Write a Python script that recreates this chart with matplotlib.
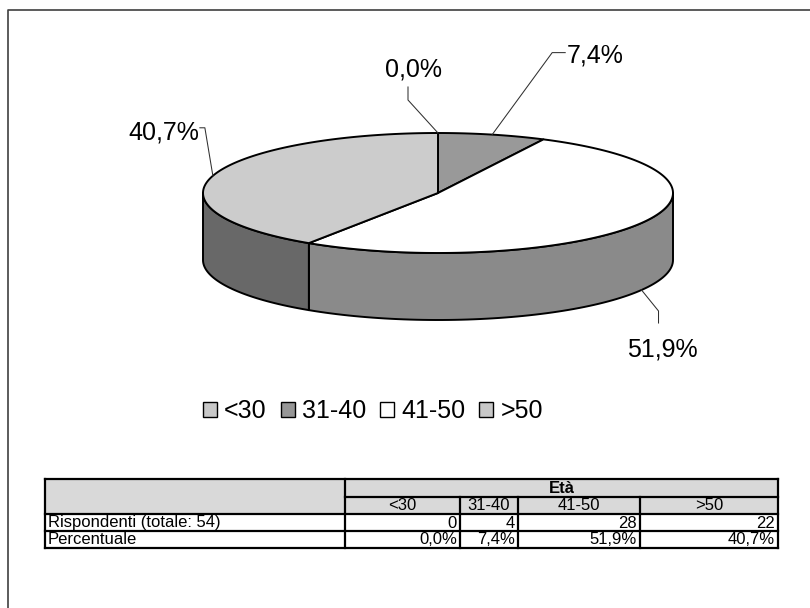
import numpy as np
import matplotlib
matplotlib.use('Agg')
import matplotlib.pyplot as plt
from matplotlib.patches import Polygon, Rectangle, Patch

plt.rcParams['font.family'] = ['Liberation Sans', 'DejaVu Sans']

# dati: fasce d'età e numero di rispondenti
categories = ['<30', '31-40', '41-50', '>50']
counts = [0, 4, 28, 22]
row_labels = ['Rispondenti (totale: 54)', 'Percentuale']
header = 'Età'

top_colors = ['#cccccc', '#999999', '#ffffff', '#cccccc']
side_colors = ['#6a6a6a', '#6a6a6a', '#8a8a8a', '#686868']
legend_colors = ['#c8c8c8', '#969696', '#ffffff', '#c8c8c8']

total = sum(counts)
fracs = np.array(counts) / total
pct_labels = [f'{100 * f:.1f}%'.replace('.', ',') for f in fracs]

W, H = 810, 608
fig = plt.figure(figsize=(W / 100, H / 100), dpi=100)
ax = fig.add_axes([0, 0, 1, 1])
ax.set_xlim(0, W)
ax.set_ylim(H, 0)
ax.axis('off')

# cornice (visibili solo lato sinistro e superiore)
ax.plot([8, 8, W + 5], [H + 5, 10, 10], color='#404040', lw=1.2, solid_capstyle='butt')

# torta 3D: ellisse in pixel
cx, cy, a, b, depth = 438, 193, 235, 60, 67


def rim(th):
    t = np.radians(th)
    return cx + a * np.sin(t), cy - b * np.cos(t)


ends = np.cumsum(fracs) * 360
starts = ends - fracs * 360

# pareti laterali (solo metà anteriore)
for i in range(len(categories)):
    lo, hi = max(starts[i], 90), min(ends[i], 270)
    if hi <= lo:
        continue
    t = np.linspace(lo, hi, 80)
    x, y = rim(t)
    pts = np.column_stack([np.r_[x, x[::-1]], np.r_[y, y[::-1] + depth]])
    ax.add_patch(Polygon(pts, closed=True, facecolor=side_colors[i],
                         edgecolor='black', lw=1.4, joinstyle='round'))

# superficie superiore
for i in range(len(categories)):
    t = np.linspace(starts[i], ends[i], max(2, int(fracs[i] * 300)))
    x, y = rim(t)
    pts = np.column_stack([np.r_[cx, x], np.r_[cy, y]])
    ax.add_patch(Polygon(pts, closed=True, facecolor=top_colors[i],
                         edgecolor='black', lw=1.4, joinstyle='round'))

# etichette con linee guida: (gomito, fine linea, testo) relativi all'ancora
label_layout = [
    ((-30, -33), (-30, -46), (-25, -63), 'center'),
    ((60, -82), (73, -82), (75, -79), 'left'),
    ((17, 21), (17, 33), (21, 59), 'center'),
    ((-8, -48), (-13, -48), (-14, -43), 'right'),
]
for i, (elb, end, txt, ha) in enumerate(label_layout):
    mid = (starts[i] + ends[i]) / 2
    ax_x, ax_y = rim(mid)
    if 90 < mid < 270:
        ax_y += depth
    ax.plot([ax_x, ax_x + elb[0], ax_x + end[0]],
            [ax_y, ax_y + elb[1], ax_y + end[1]], color='#303030', lw=0.75)
    ax.text(ax_x + txt[0], ax_y + txt[1], pct_labels[i], fontsize=18,
            ha=ha, va='center')

# legenda
handles = [Patch(facecolor=c, edgecolor='black', lw=1.0) for c in legend_colors]
fig.legend(handles, categories, ncol=4, loc='center',
           bbox_to_anchor=(373 / W, 1 - 411 / H), frameon=False, fontsize=18,
           handlelength=0.56, handleheight=0.56, handletextpad=0.3,
           columnspacing=0.55, borderpad=0)

# tabella
col_x = [45, 345, 460, 518, 640, 778]
row_y = [479, 497, 514, 531, 548]
gray = '#d9d9d9'
ax.add_patch(Rectangle((col_x[0], row_y[0]), col_x[-1] - col_x[0], row_y[2] - row_y[0],
                       facecolor=gray, edgecolor='none'))
lw = 1.6
# linee orizzontali
ax.plot([col_x[0], col_x[-1]], [row_y[0]] * 2, color='black', lw=lw)
ax.plot([col_x[1], col_x[-1]], [row_y[1]] * 2, color='black', lw=lw)
for yy in row_y[2:]:
    ax.plot([col_x[0], col_x[-1]], [yy] * 2, color='black', lw=lw)
# linee verticali
for j, xx in enumerate(col_x):
    y0 = row_y[1] if 1 < j < len(col_x) - 1 else row_y[0]
    ax.plot([xx, xx], [y0, row_y[-1]], color='black', lw=lw)

fs = 12
ax.text((col_x[1] + col_x[-1]) / 2, (row_y[0] + row_y[1]) / 2 + 0.5, header,
        fontsize=fs, fontweight='bold', ha='center', va='center')
for j, cat in enumerate(categories):
    ax.text((col_x[j + 1] + col_x[j + 2]) / 2, (row_y[1] + row_y[2]) / 2 + 0.5, cat,
            fontsize=fs, ha='center', va='center')
table_rows = [[str(c) for c in counts], pct_labels]
for r, (lab, vals) in enumerate(zip(row_labels, table_rows)):
    ym = (row_y[r + 2] + row_y[r + 3]) / 2 + 0.5
    ax.text(col_x[0] + 3, ym, lab, fontsize=fs, ha='left', va='center')
    for j, v in enumerate(vals):
        ax.text(col_x[j + 2] - 3, ym, v, fontsize=fs, ha='right', va='center')

fig.savefig('out.png', dpi=100, facecolor='white')
